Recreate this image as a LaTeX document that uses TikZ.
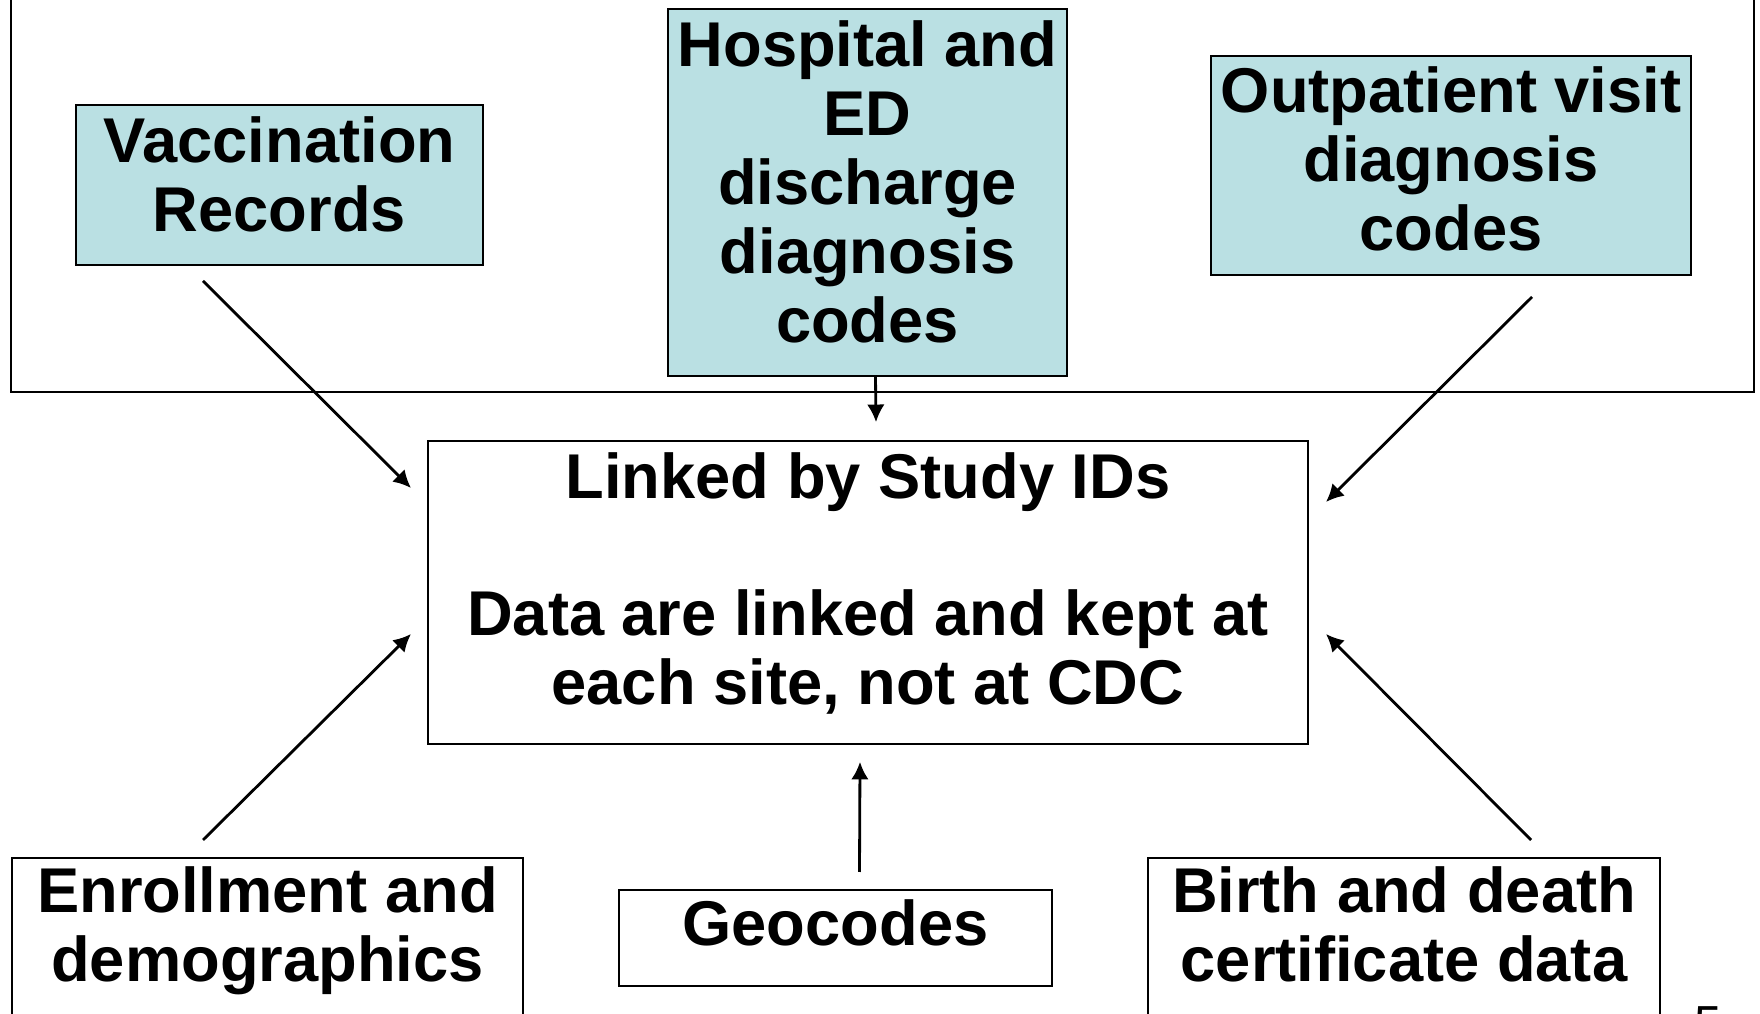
\documentclass[tikz,border=0pt]{standalone}
\usepackage{fontspec}
\setmainfont{Liberation Sans}
\usepackage{tikz}
\usetikzlibrary{arrows,arrows.meta,shapes,positioning}
\usepackage{xcolor}
\definecolor{srcblue}{RGB}{186,224,227}
\tikzstyle{arrow} = [line width=0.8pt,->,>={Latex[length=5pt,width=5pt]}]
\tikzstyle{plainbox} = [draw, line width=0.5pt, align=center, inner xsep=0.05cm, inner ysep=0.05cm, font=\fontsize{18}{19.6}\selectfont\bfseries]
\tikzstyle{srcbox} = [plainbox, fill=srcblue]

\begin{document}
\begin{tikzpicture}
\useasboundingbox (0,0) rectangle (17.6,-10.14);

% Site frame
\draw[line width=0.5pt] (0.11,0.3) rectangle (17.54,-3.92);

% Source files at the site
\node[srcbox, minimum width=4.07cm, minimum height=1.6cm, text depth=0.22cm] (vacc) at (2.795,-1.85) {Vaccination\\Records};
\node[srcbox, minimum width=3.99cm, minimum height=3.67cm, text depth=0.22cm] (hosp) at (8.675,-1.925) {Hospital and\\ED\\discharge\\diagnosis\\codes};
\node[srcbox, minimum width=4.80cm, minimum height=2.19cm, text depth=0.14cm] (outp) at (14.51,-1.655) {Outpatient visit\\diagnosis\\codes};

% Linking box
\node[plainbox, minimum width=8.80cm, minimum height=3.03cm, text depth=0.28cm] (link) at (8.68,-5.925) {Linked by Study IDs\\[19.6pt]Data are linked and kept at\\each site, not at CDC};

% Other sources
\node[plainbox, minimum width=5.11cm, anchor=north, inner ysep=0.09cm, text depth=3cm] (enrol) at (2.675,-8.57) {Enrollment and\\demographics};
\node[plainbox, minimum width=4.33cm, anchor=north, text height=0.51cm, text depth=0.35cm] (geo) at (8.355,-8.89) {Geocodes};
\node[plainbox, minimum width=5.12cm, anchor=north, inner ysep=0.09cm, text depth=3cm] (birth) at (14.04,-8.57) {Birth and death\\certificate data};

% Page number
\node[anchor=north, inner sep=0pt, font=\fontsize{14}{16}\selectfont] (pagenum) at (17.085,-10.06) {5};

% Arrow ends
\coordinate (vacc-out) at (2.03,-2.81);
\coordinate (vacc-in) at (4.11,-4.88);
\coordinate (outp-out) at (15.32,-2.97);
\coordinate (outp-in) at (13.26,-5.02);
\coordinate (enrol-out) at (2.03,-8.40);
\coordinate (enrol-in) at (4.11,-6.34);
\coordinate (birth-out) at (15.31,-8.40);
\coordinate (birth-in) at (13.26,-6.34);

% Arrows into the link
\draw[arrow] (vacc-out) -- (vacc-in);
\draw[arrow] ([xshift=0.08cm]hosp.south) -- ([xshift=0.08cm,yshift=0.18cm]link.north);
\draw[arrow] (outp-out) -- (outp-in);
\draw[arrow] (enrol-out) -- (enrol-in);
\draw[arrow] ([xshift=0.24cm,yshift=0.17cm]geo.north) -- ([xshift=-0.08cm,yshift=-0.17cm]link.south);
\draw[arrow] (birth-out) -- (birth-in);
\end{tikzpicture}
\end{document}
